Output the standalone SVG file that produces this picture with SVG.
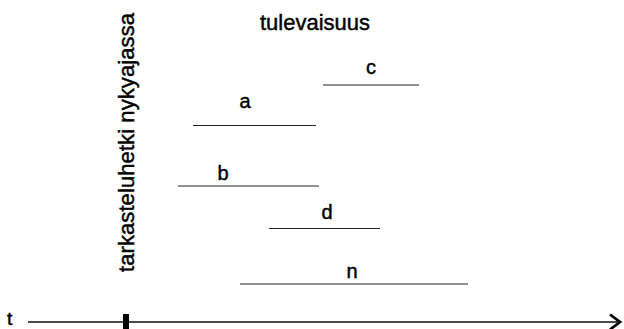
<svg xmlns="http://www.w3.org/2000/svg" width="624" height="329" viewBox="0 0 624 329">
<style>
text{font-family:"Liberation Sans",Arial,sans-serif;fill:#000;stroke:#000;stroke-width:0.45}
.big{font-size:22px}
.lbl{font-size:20px;text-anchor:middle}
.seg{stroke:#222;stroke-width:1.2;fill:none}
</style>
<rect width="624" height="329" fill="#fff"/>
<g id="axis">
<text x="7" y="325" style="font-size:19px">t</text>
<line x1="28" y1="322" x2="620" y2="322" stroke="#111" stroke-width="1.3"/>
<polyline points="610,314.5 620,322 610,329.5" fill="none" stroke="#000" stroke-width="2.8"/>
<rect x="123" y="314" width="6" height="15" fill="#000"/>
</g>
<g id="now">
<text class="big" transform="translate(134,272) rotate(-90)" textLength="259">tarkasteluhetki nykyajassa</text>
</g>
<g id="future">
<text class="big" x="315" y="30" text-anchor="middle">tulevaisuus</text>
</g>
<g id="connectors">
<line class="seg" x1="193" y1="125.5" x2="316" y2="125.5"/>
<line class="seg" x1="178" y1="186" x2="319" y2="186"/>
<line class="seg" x1="323" y1="85" x2="419" y2="85"/>
<line class="seg" x1="269" y1="228.5" x2="380" y2="228.5"/>
<line class="seg" x1="240" y1="284" x2="468" y2="284"/>
</g>
<g id="a"><text class="lbl" x="245" y="108">a</text></g>
<g id="b"><text class="lbl" x="223" y="180">b</text></g>
<g id="c"><text class="lbl" x="371" y="74">c</text></g>
<g id="d"><text class="lbl" x="327" y="219">d</text></g>
<g id="n"><text class="lbl" x="352" y="278">n</text></g>
</svg>
